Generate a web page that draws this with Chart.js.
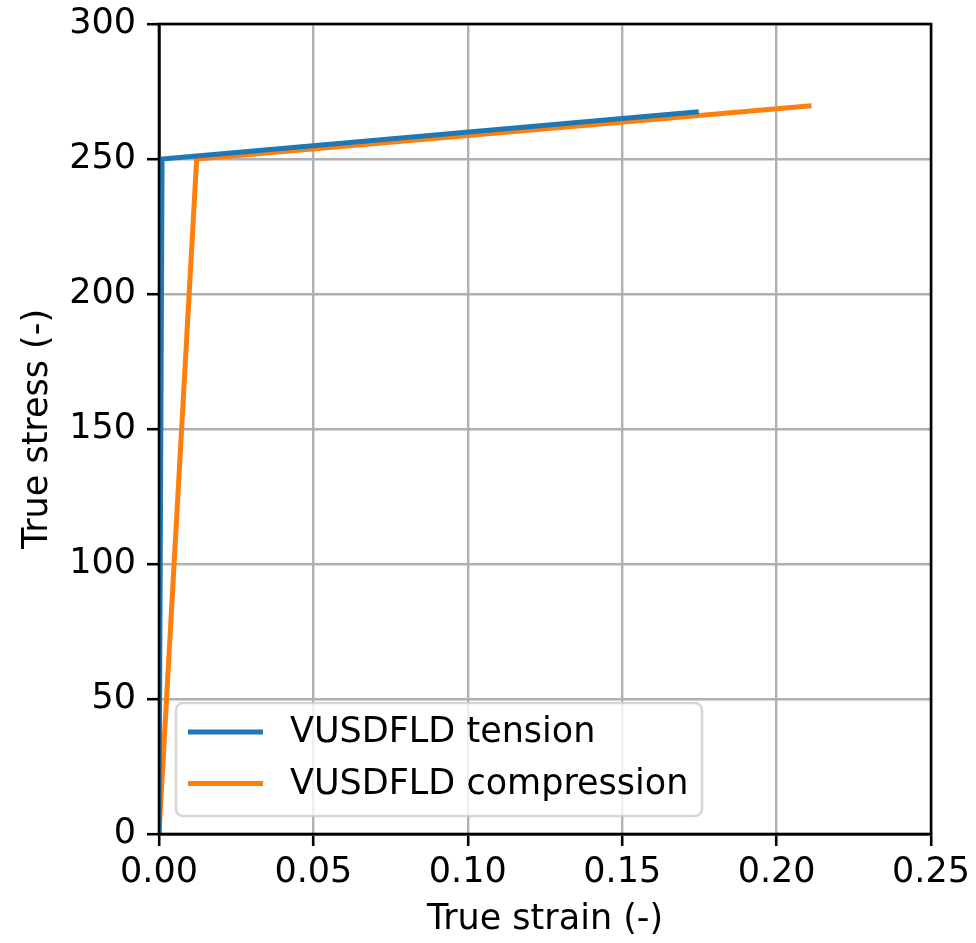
<!DOCTYPE html>
<html>
<head>
<meta charset="utf-8">
<script src="https://cdn.jsdelivr.net/npm/chart.js@4"></script>
<style>
  html, body { margin: 0; padding: 0; background: #ffffff; }
  #wrap { width: 976px; height: 943px; }
</style>
</head>
<body>
<div id="wrap"><canvas id="c" width="976" height="943"></canvas></div>
<script>
// ---- data ----
const seriesLabels = ["VUSDFLD tension", "VUSDFLD compression"];
const tensionStrain = [0, 0.001, 0.1748];
const tensionStress = [0, 250, 267.5];
const compressionStrain = [0, 0.0122, 0.2113];
const compressionStress = [0, 250, 269.7];
const xTicks = [0, 0.05, 0.10, 0.15, 0.20, 0.25];
const yTicks = [0, 50, 100, 150, 200, 250, 300];
const xTitle = "True strain (-)";
const yTitle = "True stress (-)";

const FONT = "'DejaVu Sans', sans-serif";
const FS = 35;

function pts(xs, ys) { return xs.map((x, i) => ({ x: x, y: ys[i] })); }

const frameAndLegend = {
  id: 'frameAndLegend',
  afterDatasetsDraw(chart) {
    const ctx = chart.ctx, a = chart.chartArea;
    ctx.save();
    ctx.strokeStyle = '#000';
    ctx.lineWidth = 2.6;
    ctx.strokeRect(a.left, a.top, a.right - a.left, a.bottom - a.top);
    ctx.restore();
  },
  afterDraw(chart) {
    const ctx = chart.ctx, a = chart.chartArea;
    const bx = a.left + 17, by = a.bottom - 131, bw = 526, bh = 113, r = 7;
    ctx.save();
    ctx.beginPath();
    ctx.moveTo(bx + r, by);
    ctx.lineTo(bx + bw - r, by);
    ctx.arcTo(bx + bw, by, bx + bw, by + r, r);
    ctx.lineTo(bx + bw, by + bh - r);
    ctx.arcTo(bx + bw, by + bh, bx + bw - r, by + bh, r);
    ctx.lineTo(bx + r, by + bh);
    ctx.arcTo(bx, by + bh, bx, by + bh - r, r);
    ctx.lineTo(bx, by + r);
    ctx.arcTo(bx, by, bx + r, by, r);
    ctx.closePath();
    ctx.fillStyle = 'rgba(255,255,255,0.8)';
    ctx.fill();
    ctx.strokeStyle = 'rgba(204,204,204,0.8)';
    ctx.lineWidth = 2.6;
    ctx.stroke();
    ctx.font = FS + 'px ' + FONT;
    ctx.textBaseline = 'middle';
    ctx.fillStyle = '#000';
    chart.data.datasets.forEach((ds, i) => {
      const y = by + 29 + i * 51.5;
      ctx.beginPath();
      ctx.moveTo(bx + 12, y);
      ctx.lineTo(bx + 87, y);
      ctx.strokeStyle = ds.borderColor;
      ctx.lineWidth = 5;
      ctx.stroke();
      ctx.fillText(ds.label, bx + 114, y + 1);
    });
    ctx.restore();
  }
};

new Chart(document.getElementById('c'), {
  type: 'scatter',
  data: {
    datasets: [
      { label: seriesLabels[0], data: pts(tensionStrain, tensionStress), showLine: true,
        borderColor: '#1f77b4', backgroundColor: '#1f77b4', borderWidth: 5, pointRadius: 0, tension: 0 },
      { label: seriesLabels[1], data: pts(compressionStrain, compressionStress), showLine: true,
        borderColor: '#ff7f0e', backgroundColor: '#ff7f0e', borderWidth: 5, pointRadius: 0, tension: 0 }
    ]
  },
  options: {
    responsive: false,
    animation: false,
    devicePixelRatio: 1,
    layout: { padding: { top: 24, right: 44, bottom: 0, left: 0 } },
    plugins: { legend: { display: false }, tooltip: { enabled: false } },
    scales: {
      x: {
        type: 'linear', min: 0, max: 0.25,
        afterBuildTicks(s) { s.ticks = xTicks.map(v => ({ value: v })); },
        afterFit(s) { s.height = 943 - 834; },
        ticks: { font: { family: FONT, size: FS }, color: '#000', padding: 6,
                 callback: v => Number(v).toFixed(2), maxRotation: 0 },
        grid: { color: '#b0b0b0', lineWidth: 2.4, tickLength: 12, tickColor: '#000', tickWidth: 2.6 },
        border: { display: true, color: '#000', width: 2.6 },
        title: { display: true, text: xTitle, font: { family: FONT, size: FS }, color: '#000', padding: { top: 0, bottom: 2 } }
      },
      y: {
        type: 'linear', min: 0, max: 300,
        afterBuildTicks(s) { s.ticks = yTicks.map(v => ({ value: v })); },
        afterFit(s) { s.width = 159; },
        ticks: { font: { family: FONT, size: FS, lineHeight: 0.4 }, color: '#000', padding: 11 },
        grid: { color: '#b0b0b0', lineWidth: 2.4, tickLength: 12, tickColor: '#000', tickWidth: 2.6 },
        border: { display: true, color: '#000', width: 2.6 },
        title: { display: true, text: yTitle, font: { family: FONT, size: FS }, color: '#000', padding: { top: 17, bottom: 0 } }
      }
    }
  },
  plugins: [frameAndLegend]
});
</script>
</body>
</html>
